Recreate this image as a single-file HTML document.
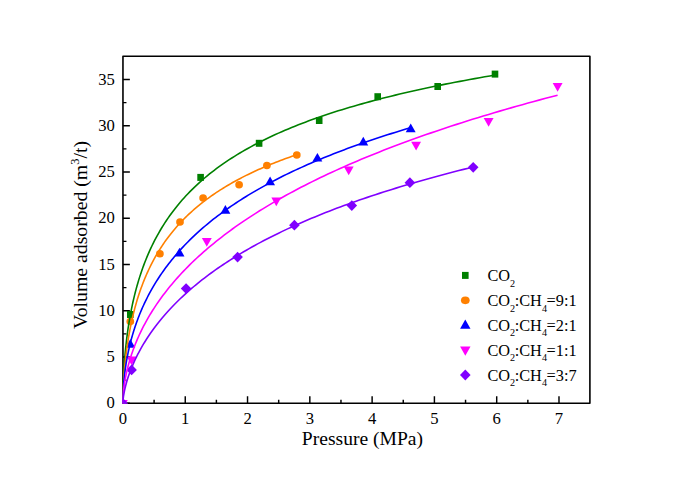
<!DOCTYPE html><html><head><meta charset="utf-8"><title>Adsorption isotherms</title>
<style>html,body{margin:0;padding:0;background:#fff}svg{display:block}text{font-family:"Liberation Serif",serif;fill:#000}</style></head><body>
<svg width="685" height="484" viewBox="0 0 685 484">
<rect width="685" height="484" fill="#fff"/>
<defs><clipPath id="pa"><rect x="122.36" y="56.25" width="467.54" height="347.6"/></clipPath></defs>
<rect x="122.96" y="56.25" width="466.94" height="347.0" fill="none" stroke="#000" stroke-width="1.6" stroke-linejoin="round"/>
<path d="M122.96 403.25 v-6.9 M154.10 403.25 v-3.5 M185.25 403.25 v-6.9 M216.39 403.25 v-3.5 M247.54 403.25 v-6.9 M278.69 403.25 v-3.5 M309.83 403.25 v-6.9 M340.97 403.25 v-3.5 M372.12 403.25 v-6.9 M403.26 403.25 v-3.5 M434.41 403.25 v-6.9 M465.55 403.25 v-3.5 M496.70 403.25 v-6.9 M527.85 403.25 v-3.5 M558.99 403.25 v-6.9 M122.96 403.25 h6.9 M122.96 380.12 h3.5 M122.96 357.00 h6.9 M122.96 333.88 h3.5 M122.96 310.75 h6.9 M122.96 287.62 h3.5 M122.96 264.50 h6.9 M122.96 241.38 h3.5 M122.96 218.25 h6.9 M122.96 195.12 h3.5 M122.96 172.00 h6.9 M122.96 148.88 h3.5 M122.96 125.75 h6.9 M122.96 102.62 h3.5 M122.96 79.50 h6.9" stroke="#000" stroke-width="1.45" fill="none"/>
<g clip-path="url(#pa)">
<rect x="119.50" y="400.00" width="6.6" height="7" fill="#008000"/>
<rect x="127.00" y="311.00" width="6.6" height="7" fill="#008000"/>
<rect x="197.30" y="173.90" width="6.6" height="7" fill="#008000"/>
<rect x="255.80" y="139.80" width="6.6" height="7" fill="#008000"/>
<rect x="315.90" y="117.00" width="6.6" height="7" fill="#008000"/>
<rect x="374.40" y="93.20" width="6.6" height="7" fill="#008000"/>
<rect x="434.40" y="83.00" width="6.6" height="7" fill="#008000"/>
<rect x="491.70" y="70.60" width="6.6" height="7" fill="#008000"/>
<ellipse cx="122.80" cy="403.50" rx="3.85" ry="3.75" fill="#ff8000"/>
<ellipse cx="130.30" cy="321.60" rx="3.85" ry="3.75" fill="#ff8000"/>
<ellipse cx="159.90" cy="253.80" rx="3.85" ry="3.75" fill="#ff8000"/>
<ellipse cx="180.00" cy="222.00" rx="3.85" ry="3.75" fill="#ff8000"/>
<ellipse cx="203.10" cy="198.00" rx="3.85" ry="3.75" fill="#ff8000"/>
<ellipse cx="239.10" cy="184.80" rx="3.85" ry="3.75" fill="#ff8000"/>
<ellipse cx="266.90" cy="165.50" rx="3.85" ry="3.75" fill="#ff8000"/>
<ellipse cx="296.80" cy="155.00" rx="3.85" ry="3.75" fill="#ff8000"/>
<polygon points="117.86,406.92 127.74,406.92 122.80,398.18" fill="#0000ff"/>
<polygon points="125.36,347.82 135.24,347.82 130.30,339.08" fill="#0000ff"/>
<polygon points="174.56,256.42 184.44,256.42 179.50,247.68" fill="#0000ff"/>
<polygon points="220.46,213.82 230.34,213.82 225.40,205.08" fill="#0000ff"/>
<polygon points="265.16,185.22 275.04,185.22 270.10,176.48" fill="#0000ff"/>
<polygon points="312.46,161.62 322.34,161.62 317.40,152.88" fill="#0000ff"/>
<polygon points="358.36,145.52 368.24,145.52 363.30,136.78" fill="#0000ff"/>
<polygon points="405.76,132.32 415.64,132.32 410.70,123.58" fill="#0000ff"/>
<polygon points="117.86,400.08 127.74,400.08 122.80,408.82" fill="#ff00ff"/>
<polygon points="126.66,356.58 136.54,356.58 131.60,365.32" fill="#ff00ff"/>
<polygon points="201.86,237.98 211.74,237.98 206.80,246.72" fill="#ff00ff"/>
<polygon points="271.36,197.48 281.24,197.48 276.30,206.22" fill="#ff00ff"/>
<polygon points="343.76,166.48 353.64,166.48 348.70,175.22" fill="#ff00ff"/>
<polygon points="411.16,141.68 421.04,141.68 416.10,150.42" fill="#ff00ff"/>
<polygon points="483.66,118.08 493.54,118.08 488.60,126.82" fill="#ff00ff"/>
<polygon points="552.66,83.08 562.54,83.08 557.60,91.82" fill="#ff00ff"/>
<polygon points="117.50,403.50 122.80,398.10 128.10,403.50 122.80,408.90" fill="#8000ff"/>
<polygon points="126.30,369.90 131.60,364.50 136.90,369.90 131.60,375.30" fill="#8000ff"/>
<polygon points="180.80,288.60 186.10,283.20 191.40,288.60 186.10,294.00" fill="#8000ff"/>
<polygon points="232.30,257.10 237.60,251.70 242.90,257.10 237.60,262.50" fill="#8000ff"/>
<polygon points="289.10,225.20 294.40,219.80 299.70,225.20 294.40,230.60" fill="#8000ff"/>
<polygon points="346.50,205.60 351.80,200.20 357.10,205.60 351.80,211.00" fill="#8000ff"/>
<polygon points="404.60,182.70 409.90,177.30 415.20,182.70 409.90,188.10" fill="#8000ff"/>
<polygon points="467.90,167.30 473.20,161.90 478.50,167.30 473.20,172.70" fill="#8000ff"/>
<path d="M122.80 403.50 L122.81 401.69 L122.82 399.24 L122.86 396.50 L122.91 393.57 L122.98 390.49 L123.08 387.31 L123.19 384.04 L123.32 380.70 L123.47 377.31 L123.65 373.87 L123.84 370.41 L124.06 366.92 L124.31 363.42 L124.57 359.90 L124.87 356.38 L125.18 352.86 L125.52 349.35 L125.89 345.84 L126.28 342.34 L126.69 338.85 L127.13 335.37 L127.60 331.92 L128.09 328.48 L128.61 325.06 L129.16 321.66 L129.73 318.29 L130.33 314.94 L130.96 311.61 L131.61 308.31 L132.29 305.04 L133.00 301.79 L133.74 298.58 L134.51 295.39 L135.30 292.23 L136.12 289.10 L136.98 286.00 L137.86 282.93 L138.77 279.89 L139.71 276.88 L140.67 273.90 L141.67 270.94 L142.70 268.02 L143.76 265.13 L144.84 262.27 L145.96 259.44 L147.11 256.64 L148.29 253.87 L149.50 251.13 L150.73 248.42 L152.00 245.74 L153.30 243.09 L154.64 240.47 L156.00 237.87 L157.39 235.31 L158.82 232.77 L160.27 230.26 L161.76 227.78 L163.28 225.32 L164.83 222.90 L166.41 220.50 L168.03 218.13 L169.68 215.78 L171.36 213.46 L173.07 211.17 L174.81 208.90 L176.59 206.65 L178.40 204.44 L180.24 202.24 L182.12 200.07 L184.02 197.93 L185.96 195.81 L187.94 193.71 L189.94 191.64 L191.99 189.59 L194.06 187.56 L196.17 185.56 L198.31 183.57 L200.48 181.61 L202.69 179.67 L204.93 177.76 L207.21 175.86 L209.51 173.98 L211.86 172.13 L214.24 170.29 L216.65 168.48 L219.09 166.68 L221.57 164.91 L224.09 163.15 L226.64 161.42 L229.22 159.70 L231.84 158.00 L234.50 156.32 L237.18 154.65 L239.91 153.01 L242.67 151.38 L245.46 149.77 L248.29 148.18 L251.15 146.60 L254.05 145.04 L256.98 143.50 L259.95 141.97 L262.96 140.46 L266.00 138.96 L269.08 137.48 L272.19 136.02 L275.34 134.57 L278.52 133.13 L281.74 131.72 L285.00 130.31 L288.29 128.92 L291.62 127.54 L294.98 126.18 L298.38 124.83 L301.82 123.50 L305.29 122.18 L308.80 120.87 L312.34 119.57 L315.93 118.29 L319.55 117.02 L323.20 115.77 L326.89 114.52 L330.62 113.29 L334.39 112.07 L338.19 110.86 L342.03 109.67 L345.91 108.48 L349.82 107.31 L353.77 106.15 L357.76 105.00 L361.79 103.86 L365.85 102.73 L369.95 101.62 L374.09 100.51 L378.27 99.41 L382.48 98.33 L386.73 97.25 L391.02 96.19 L395.34 95.13 L399.71 94.09 L404.11 93.05 L408.55 92.02 L413.03 91.01 L417.54 90.00 L422.10 89.00 L426.69 88.01 L431.32 87.03 L435.98 86.06 L440.69 85.10 L445.44 84.15 L450.22 83.20 L455.04 82.27 L459.90 81.34 L464.80 80.42 L469.74 79.51 L474.71 78.61 L479.72 77.71 L484.78 76.83 L489.87 75.95 L495.00 75.08" fill="none" stroke="#008000" stroke-width="1.6" stroke-linejoin="round"/>
<path d="M122.80 403.50 L122.80 402.82 L122.81 401.78 L122.83 400.53 L122.85 399.13 L122.89 397.61 L122.93 395.99 L122.98 394.29 L123.04 392.51 L123.11 390.68 L123.20 388.78 L123.29 386.84 L123.39 384.86 L123.50 382.83 L123.63 380.78 L123.77 378.69 L123.91 376.58 L124.07 374.44 L124.24 372.29 L124.42 370.11 L124.62 367.92 L124.82 365.72 L125.04 363.51 L125.27 361.29 L125.52 359.06 L125.77 356.83 L126.04 354.60 L126.32 352.36 L126.61 350.12 L126.92 347.88 L127.24 345.64 L127.57 343.41 L127.91 341.18 L128.27 338.95 L128.64 336.73 L129.03 334.51 L129.43 332.30 L129.84 330.10 L130.26 327.91 L130.70 325.72 L131.16 323.55 L131.62 321.38 L132.10 319.23 L132.60 317.08 L133.11 314.95 L133.63 312.83 L134.16 310.72 L134.71 308.62 L135.28 306.53 L135.86 304.46 L136.45 302.40 L137.06 300.35 L137.68 298.32 L138.32 296.30 L138.97 294.30 L139.64 292.30 L140.32 290.33 L141.01 288.36 L141.72 286.41 L142.45 284.48 L143.19 282.56 L143.94 280.65 L144.71 278.76 L145.50 276.88 L146.30 275.02 L147.12 273.17 L147.95 271.34 L148.79 269.52 L149.65 267.72 L150.53 265.93 L151.42 264.15 L152.33 262.39 L153.25 260.65 L154.19 258.92 L155.14 257.20 L156.11 255.50 L157.10 253.81 L158.10 252.14 L159.11 250.48 L160.15 248.83 L161.19 247.20 L162.26 245.59 L163.34 243.98 L164.43 242.39 L165.55 240.82 L166.67 239.26 L167.82 237.71 L168.98 236.17 L170.15 234.65 L171.34 233.14 L172.55 231.65 L173.78 230.17 L175.02 228.70 L176.27 227.24 L177.55 225.80 L178.84 224.37 L180.14 222.95 L181.46 221.55 L182.80 220.15 L184.16 218.77 L185.53 217.40 L186.92 216.05 L188.32 214.70 L189.74 213.37 L191.18 212.05 L192.64 210.74 L194.11 209.45 L195.60 208.16 L197.10 206.89 L198.63 205.62 L200.16 204.37 L201.72 203.13 L203.29 201.90 L204.88 200.68 L206.49 199.47 L208.11 198.28 L209.75 197.09 L211.41 195.91 L213.09 194.75 L214.78 193.59 L216.49 192.44 L218.21 191.31 L219.96 190.18 L221.72 189.07 L223.49 187.96 L225.29 186.86 L227.10 185.78 L228.93 184.70 L230.78 183.63 L232.64 182.57 L234.53 181.52 L236.42 180.48 L238.34 179.45 L240.28 178.43 L242.23 177.41 L244.20 176.41 L246.18 175.41 L248.19 174.42 L250.21 173.44 L252.25 172.47 L254.31 171.51 L256.38 170.55 L258.48 169.60 L260.59 168.66 L262.72 167.73 L264.86 166.81 L267.03 165.89 L269.21 164.99 L271.41 164.09 L273.63 163.19 L275.87 162.31 L278.12 161.43 L280.39 160.56 L282.68 159.70 L284.99 158.84 L287.31 157.99 L289.66 157.15 L292.02 156.32 L294.40 155.49 L296.80 154.67" fill="none" stroke="#ff8000" stroke-width="1.6" stroke-linejoin="round"/>
<path d="M122.80 403.50 L122.80 402.39 L122.82 400.95 L122.85 399.36 L122.89 397.67 L122.94 395.90 L123.01 394.07 L123.10 392.19 L123.20 390.26 L123.32 388.30 L123.45 386.31 L123.61 384.29 L123.78 382.25 L123.97 380.19 L124.17 378.11 L124.40 376.02 L124.64 373.91 L124.90 371.79 L125.19 369.66 L125.49 367.52 L125.81 365.37 L126.15 363.22 L126.51 361.06 L126.89 358.90 L127.29 356.74 L127.72 354.57 L128.16 352.41 L128.62 350.24 L129.11 348.07 L129.61 345.91 L130.14 343.74 L130.69 341.58 L131.26 339.42 L131.86 337.26 L132.47 335.10 L133.11 332.95 L133.77 330.81 L134.45 328.67 L135.15 326.53 L135.88 324.40 L136.63 322.27 L137.40 320.15 L138.19 318.03 L139.01 315.92 L139.85 313.82 L140.72 311.72 L141.60 309.64 L142.51 307.55 L143.45 305.48 L144.41 303.41 L145.39 301.35 L146.40 299.30 L147.42 297.25 L148.48 295.22 L149.56 293.19 L150.66 291.17 L151.79 289.16 L152.94 287.15 L154.11 285.16 L155.31 283.17 L156.54 281.19 L157.79 279.22 L159.06 277.26 L160.36 275.31 L161.68 273.36 L163.03 271.43 L164.41 269.50 L165.81 267.59 L167.23 265.68 L168.68 263.78 L170.16 261.89 L171.66 260.01 L173.18 258.14 L174.74 256.27 L176.32 254.42 L177.92 252.57 L179.55 250.74 L181.20 248.91 L182.89 247.09 L184.59 245.29 L186.33 243.49 L188.09 241.70 L189.87 239.92 L191.69 238.14 L193.53 236.38 L195.39 234.63 L197.28 232.88 L199.20 231.14 L201.15 229.42 L203.12 227.70 L205.12 225.99 L207.14 224.29 L209.20 222.60 L211.28 220.92 L213.38 219.24 L215.52 217.58 L217.68 215.92 L219.87 214.27 L222.08 212.64 L224.32 211.01 L226.59 209.39 L228.89 207.77 L231.21 206.17 L233.57 204.57 L235.95 202.99 L238.35 201.41 L240.79 199.84 L243.25 198.28 L245.74 196.72 L248.26 195.18 L250.81 193.64 L253.38 192.11 L255.98 190.59 L258.61 189.08 L261.27 187.58 L263.96 186.08 L266.67 184.59 L269.41 183.11 L272.19 181.64 L274.98 180.18 L277.81 178.72 L280.67 177.27 L283.55 175.83 L286.47 174.40 L289.41 172.98 L292.38 171.56 L295.38 170.15 L298.40 168.75 L301.46 167.36 L304.55 165.97 L307.66 164.59 L310.80 163.22 L313.97 161.85 L317.18 160.50 L320.41 159.15 L323.66 157.80 L326.95 156.47 L330.27 155.14 L333.62 153.82 L336.99 152.51 L340.40 151.20 L343.83 149.90 L347.29 148.61 L350.79 147.32 L354.31 146.04 L357.86 144.77 L361.44 143.50 L365.05 142.25 L368.69 140.99 L372.36 139.75 L376.06 138.51 L379.79 137.28 L383.55 136.05 L387.34 134.83 L391.16 133.62 L395.01 132.41 L398.88 131.22 L402.79 130.02 L406.73 128.84 L410.70 127.65" fill="none" stroke="#0000ff" stroke-width="1.6" stroke-linejoin="round"/>
<path d="M122.80 403.50 L122.81 402.65 L122.83 401.48 L122.87 400.16 L122.93 398.72 L123.02 397.20 L123.12 395.60 L123.25 393.95 L123.41 392.24 L123.58 390.48 L123.79 388.68 L124.02 386.84 L124.28 384.97 L124.56 383.07 L124.87 381.14 L125.21 379.19 L125.58 377.21 L125.98 375.21 L126.40 373.19 L126.86 371.15 L127.34 369.09 L127.86 367.02 L128.40 364.94 L128.98 362.84 L129.59 360.73 L130.22 358.61 L130.89 356.48 L131.59 354.34 L132.33 352.19 L133.09 350.03 L133.89 347.87 L134.72 345.70 L135.58 343.52 L136.48 341.34 L137.40 339.15 L138.37 336.96 L139.36 334.77 L140.39 332.57 L141.45 330.37 L142.55 328.17 L143.68 325.96 L144.85 323.76 L146.05 321.55 L147.28 319.34 L148.55 317.14 L149.86 314.93 L151.20 312.72 L152.57 310.51 L153.99 308.31 L155.43 306.10 L156.92 303.90 L158.43 301.69 L159.99 299.49 L161.58 297.29 L163.21 295.10 L164.87 292.90 L166.58 290.71 L168.31 288.53 L170.09 286.34 L171.90 284.16 L173.75 281.98 L175.64 279.80 L177.56 277.63 L179.52 275.47 L181.52 273.30 L183.56 271.14 L185.64 268.99 L187.75 266.84 L189.90 264.69 L192.09 262.55 L194.32 260.42 L196.59 258.28 L198.89 256.16 L201.24 254.04 L203.62 251.92 L206.04 249.81 L208.50 247.70 L211.01 245.60 L213.55 243.51 L216.12 241.42 L218.74 239.34 L221.40 237.26 L224.10 235.19 L226.84 233.12 L229.61 231.06 L232.43 229.01 L235.29 226.96 L238.19 224.92 L241.13 222.88 L244.10 220.85 L247.12 218.83 L250.18 216.81 L253.28 214.80 L256.42 212.80 L259.60 210.80 L262.83 208.81 L266.09 206.82 L269.39 204.84 L272.74 202.87 L276.13 200.91 L279.55 198.95 L283.02 197.00 L286.53 195.05 L290.09 193.11 L293.68 191.18 L297.31 189.25 L300.99 187.33 L304.71 185.42 L308.47 183.51 L312.28 181.61 L316.12 179.72 L320.01 177.84 L323.94 175.96 L327.91 174.08 L331.93 172.22 L335.98 170.36 L340.08 168.51 L344.22 166.66 L348.41 164.82 L352.64 162.99 L356.91 161.16 L361.22 159.35 L365.58 157.53 L369.98 155.73 L374.42 153.93 L378.90 152.14 L383.43 150.35 L388.01 148.58 L392.62 146.80 L397.28 145.04 L401.98 143.28 L406.73 141.53 L411.52 139.79 L416.35 138.05 L421.23 136.32 L426.15 134.59 L431.12 132.87 L436.13 131.16 L441.18 129.46 L446.28 127.76 L451.42 126.07 L456.61 124.38 L461.84 122.70 L467.11 121.03 L472.43 119.36 L477.80 117.71 L483.21 116.05 L488.66 114.41 L494.16 112.77 L499.70 111.13 L505.29 109.51 L510.92 107.89 L516.60 106.27 L522.32 104.66 L528.09 103.06 L533.90 101.47 L539.76 99.88 L545.66 98.30 L551.61 96.72 L557.60 95.15" fill="none" stroke="#ff00ff" stroke-width="1.6" stroke-linejoin="round"/>
<path d="M122.80 403.50 L122.81 403.21 L122.82 402.71 L122.86 402.09 L122.91 401.37 L122.97 400.58 L123.06 399.70 L123.16 398.77 L123.29 397.78 L123.43 396.74 L123.60 395.65 L123.78 394.52 L123.99 393.34 L124.22 392.13 L124.47 390.88 L124.74 389.60 L125.04 388.29 L125.36 386.95 L125.70 385.58 L126.07 384.18 L126.46 382.76 L126.88 381.31 L127.32 379.85 L127.78 378.36 L128.27 376.85 L128.78 375.33 L129.32 373.79 L129.89 372.23 L130.48 370.65 L131.09 369.06 L131.74 367.46 L132.40 365.84 L133.10 364.21 L133.82 362.57 L134.57 360.92 L135.34 359.26 L136.15 357.58 L136.98 355.90 L137.83 354.22 L138.72 352.52 L139.63 350.82 L140.57 349.11 L141.53 347.39 L142.53 345.67 L143.55 343.94 L144.61 342.21 L145.69 340.48 L146.79 338.74 L147.93 337.00 L149.10 335.25 L150.29 333.51 L151.52 331.76 L152.77 330.00 L154.05 328.25 L155.37 326.50 L156.71 324.74 L158.08 322.99 L159.48 321.23 L160.91 319.48 L162.37 317.73 L163.86 315.97 L165.38 314.22 L166.93 312.47 L168.51 310.72 L170.12 308.97 L171.77 307.22 L173.44 305.48 L175.14 303.74 L176.88 302.00 L178.64 300.26 L180.44 298.53 L182.26 296.80 L184.12 295.08 L186.01 293.35 L187.93 291.63 L189.88 289.92 L191.87 288.21 L193.88 286.50 L195.93 284.80 L198.01 283.10 L200.12 281.40 L202.26 279.71 L204.44 278.03 L206.64 276.35 L208.88 274.67 L211.15 273.00 L213.45 271.34 L215.79 269.68 L218.16 268.03 L220.56 266.38 L222.99 264.74 L225.46 263.10 L227.95 261.47 L230.48 259.84 L233.05 258.22 L235.65 256.61 L238.27 255.00 L240.94 253.40 L243.63 251.81 L246.36 250.22 L249.13 248.63 L251.92 247.06 L254.75 245.49 L257.61 243.92 L260.51 242.36 L263.44 240.81 L266.40 239.27 L269.40 237.73 L272.43 236.20 L275.50 234.67 L278.60 233.16 L281.73 231.64 L284.90 230.14 L288.10 228.64 L291.33 227.15 L294.60 225.66 L297.90 224.18 L301.24 222.71 L304.62 221.25 L308.02 219.79 L311.46 218.34 L314.94 216.89 L318.45 215.46 L322.00 214.03 L325.58 212.60 L329.19 211.18 L332.84 209.77 L336.53 208.37 L340.25 206.97 L344.00 205.58 L347.79 204.20 L351.62 202.82 L355.48 201.45 L359.37 200.09 L363.30 198.73 L367.27 197.38 L371.27 196.04 L375.31 194.70 L379.38 193.37 L383.49 192.05 L387.63 190.73 L391.81 189.42 L396.03 188.12 L400.28 186.82 L404.57 185.53 L408.89 184.25 L413.25 182.97 L417.64 181.70 L422.07 180.44 L426.54 179.18 L431.04 177.93 L435.58 176.69 L440.16 175.45 L444.77 174.22 L449.41 172.99 L454.10 171.77 L458.82 170.56 L463.58 169.36 L468.37 168.16 L473.20 166.96" fill="none" stroke="#8000ff" stroke-width="1.6" stroke-linejoin="round"/>
</g>
<text transform="translate(122.96 423.7) scale(1.04 1)" font-size="16" text-anchor="middle">0</text>
<text transform="translate(185.25 423.7) scale(1.04 1)" font-size="16" text-anchor="middle">1</text>
<text transform="translate(247.54 423.7) scale(1.04 1)" font-size="16" text-anchor="middle">2</text>
<text transform="translate(309.83 423.7) scale(1.04 1)" font-size="16" text-anchor="middle">3</text>
<text transform="translate(372.12 423.7) scale(1.04 1)" font-size="16" text-anchor="middle">4</text>
<text transform="translate(434.41 423.7) scale(1.04 1)" font-size="16" text-anchor="middle">5</text>
<text transform="translate(496.70 423.7) scale(1.04 1)" font-size="16" text-anchor="middle">6</text>
<text transform="translate(558.99 423.7) scale(1.04 1)" font-size="16" text-anchor="middle">7</text>
<text transform="translate(114.8 408.45) scale(1.04 1)" font-size="16" text-anchor="end">0</text>
<text transform="translate(114.8 362.20) scale(1.04 1)" font-size="16" text-anchor="end">5</text>
<text transform="translate(114.8 315.95) scale(1.04 1)" font-size="16" text-anchor="end">10</text>
<text transform="translate(114.8 269.70) scale(1.04 1)" font-size="16" text-anchor="end">15</text>
<text transform="translate(114.8 223.45) scale(1.04 1)" font-size="16" text-anchor="end">20</text>
<text transform="translate(114.8 177.20) scale(1.04 1)" font-size="16" text-anchor="end">25</text>
<text transform="translate(114.8 130.95) scale(1.04 1)" font-size="16" text-anchor="end">30</text>
<text transform="translate(114.8 84.70) scale(1.04 1)" font-size="16" text-anchor="end">35</text>
<text transform="translate(362.45 445) scale(1.07 1)" font-size="18.3" text-anchor="middle">Pressure (MPa)</text>
<text transform="translate(86.6 235) rotate(-90) scale(1.08 1)" font-size="18.3" text-anchor="middle">Volume adsorbed (m<tspan font-size="11.5" dy="-7.7">3</tspan><tspan dy="7.7">/t)</tspan></text>
<rect x="462.00" y="271.90" width="6.6" height="7" fill="#008000"/>
<text x="487.4" y="281.00" font-size="16.3">CO<tspan font-size="10.2" dy="5.6">2</tspan></text>
<ellipse cx="465.30" cy="300.30" rx="4.35" ry="3.85" fill="#ff8000"/>
<text x="487.4" y="305.90" font-size="16.3">CO<tspan font-size="10.2" dy="5.6">2</tspan><tspan dy="-5.6" dx="-0.4">:CH</tspan><tspan font-size="10.2" dy="5.6">4</tspan><tspan dy="-5.6" dx="-0.4">=9:1</tspan></text>
<polygon points="460.10,328.80 470.50,328.80 465.30,319.60" fill="#0000ff"/>
<text x="487.4" y="330.80" font-size="16.3">CO<tspan font-size="10.2" dy="5.6">2</tspan><tspan dy="-5.6" dx="-0.4">:CH</tspan><tspan font-size="10.2" dy="5.6">4</tspan><tspan dy="-5.6" dx="-0.4">=2:1</tspan></text>
<polygon points="460.10,346.50 470.50,346.50 465.30,355.70" fill="#ff00ff"/>
<text x="487.4" y="355.70" font-size="16.3">CO<tspan font-size="10.2" dy="5.6">2</tspan><tspan dy="-5.6" dx="-0.4">:CH</tspan><tspan font-size="10.2" dy="5.6">4</tspan><tspan dy="-5.6" dx="-0.4">=1:1</tspan></text>
<polygon points="460.00,375.00 465.30,369.60 470.60,375.00 465.30,380.40" fill="#8000ff"/>
<text x="487.4" y="380.60" font-size="16.3">CO<tspan font-size="10.2" dy="5.6">2</tspan><tspan dy="-5.6" dx="-0.4">:CH</tspan><tspan font-size="10.2" dy="5.6">4</tspan><tspan dy="-5.6" dx="-0.4">=3:7</tspan></text>
</svg></body></html>
